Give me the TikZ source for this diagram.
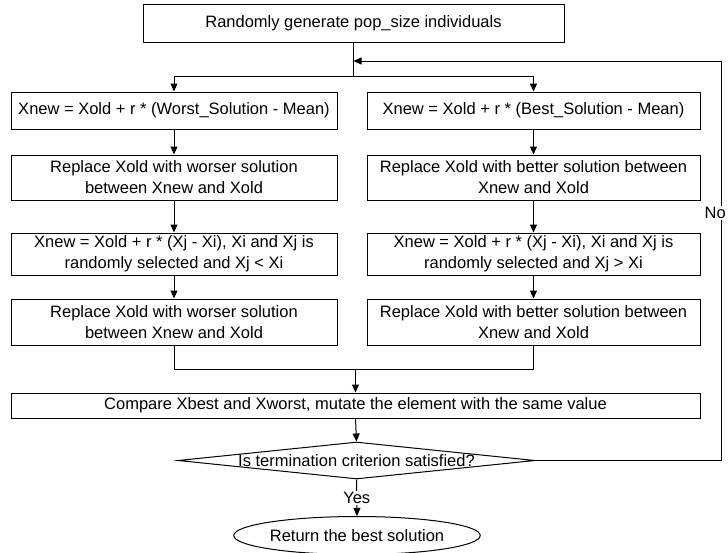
\documentclass[tikz,border=0pt]{standalone}
\usepackage{fontspec}
\setmainfont{Liberation Sans}
\usetikzlibrary{arrows.meta,shapes.geometric}
\begin{document}
\begin{tikzpicture}[x=1pt,y=-1pt,
  font=\fontsize{16.5}{21}\selectfont,
  every node/.style={inner sep=0pt},
  box/.style={draw=black,line width=1pt,rectangle,align=center},
  lbox/.style={box,minimum width=326pt},
  rbox/.style={box,minimum width=333pt},
  decbox/.style={draw=black,line width=1pt,diamond,minimum width=357pt,minimum height=37pt},
  endbox/.style={draw=black,line width=1pt,ellipse,minimum width=220pt,minimum height=38pt},
  conn/.style={line width=1pt,draw=black},
  arr/.style={conn,-{Triangle[length=8pt,width=7pt]}},
  lbl/.style={fill=white,inner sep=1.5pt}]
\useasboundingbox (0,0) rectangle (728,552);

\node[box,minimum width=421pt,minimum height=38pt] (start) at (353.5,23) {Randomly generate pop\_size individuals};

\node[lbox,minimum height=37pt] (l1) at (174,110.5) {Xnew = Xold + r * (Worst\_Solution - Mean)};
\node[rbox,minimum height=37pt] (r1) at (533.5,110.5) {Xnew = Xold + r * (Best\_Solution - Mean)};

\node[lbox,minimum height=45pt] (l2) at (174,177.5) {Replace Xold with worser solution\\between Xnew and Xold};
\node[rbox,minimum height=45pt] (r2) at (533.5,177.5) {Replace Xold with better solution between\\Xnew and Xold};

\node[lbox,minimum height=42pt] (l3) at (174,254) {Xnew = Xold + r * (Xj - Xi), Xi and Xj is\\randomly selected and Xj {<} Xi};
\node[rbox,minimum height=42pt] (r3) at (533.5,254) {Xnew = Xold + r * (Xj - Xi), Xi and Xj is\\randomly selected and Xj {>} Xi};

\node[lbox,minimum height=46pt] (l4) at (174,322) {Replace Xold with worser solution\\between Xnew and Xold};
\node[rbox,minimum height=46pt] (r4) at (533.5,322) {Replace Xold with better solution between\\Xnew and Xold};

\node[box,minimum width=689pt,minimum height=25pt] (cmp) at (355.5,405.5) {Compare Xbest and Xworst, mutate the element with the same value};

\node[decbox] (dec) at (356.5,460.5) {};
\node (dectext) at (dec.center) {Is termination criterion satisfied?};

\node[endbox] (ret) at (357,535.5) {Return the best solution};

\coordinate (split) at (353.5,76);
\coordinate (loopin) at (353.5,61);
\coordinate (join) at (355.5,369);
\coordinate (rc1) at (721,460.5);
\coordinate (rc2) at (721,61);

\draw[conn] (start.south) -- (split);
\draw[arr] (split) -| (l1.north);
\draw[arr] (split) -| (r1.north);

\draw[arr] (l1) -- (l2);
\draw[arr] (l2) -- (l3);
\draw[arr] (l3) -- (l4);
\draw[arr] (r1) -- (r2);
\draw[arr] (r2) -- (r3);
\draw[arr] (r3) -- (r4);

\draw[conn] (l4.south) |- (join);
\draw[conn] (r4.south) |- (join);
\draw[arr] (join) -- (cmp.north);

\draw[arr] (cmp.south) -- (dec.north);
\draw[arr] (dec.south) -- node[lbl] (yes) {Yes} (ret.north);

\draw[arr] (dec.east) -- (rc1) -- (rc2) -- (loopin);
\node[lbl,anchor=east] (no) at (727.5,213) {No};
\end{tikzpicture}
\end{document}
